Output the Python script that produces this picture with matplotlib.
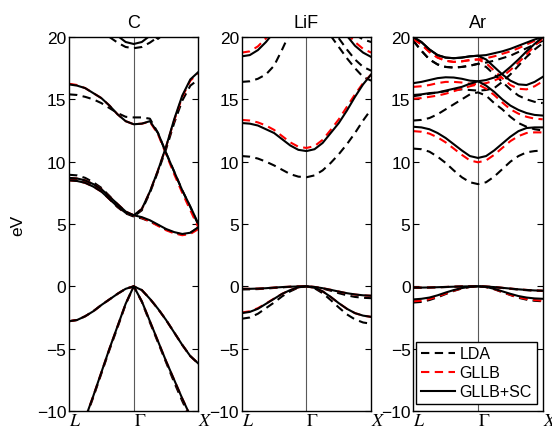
import numpy as np
import matplotlib
matplotlib.use("Agg")
import matplotlib.pyplot as plt
from matplotlib.lines import Line2D

plt.rcParams['font.family'] = ['Liberation Sans', 'DejaVu Sans']
plt.rcParams['mathtext.fontset'] = 'stix'

nan = np.nan
# k-path sample positions: L (0) -> Gamma (1) -> X (2)
kpts = np.linspace(0, 2, 17)
klabels = ['$L$', r'$\Gamma$', '$X$']
titles = ['C', 'LiF', 'Ar']
yticks = [-10, -5, 0, 5, 10, 15, 20]
methods = ['LDA', 'GLLB', 'GLLB+SC']

# ---------------- Diamond (C) ----------------
c_sc_v1 = [-2.8, -2.7, -2.4, -2.0, -1.5, -1.05, -0.6, -0.2, 0.0, -0.3, -1.0, -1.8, -2.7, -3.7, -4.7, -5.6, -6.2]
c_sc_v2 = [-13.5, -12.3, -10.6, -8.8, -6.9, -5.0, -3.2, -1.4, 0.0, -1.2, -2.8, -4.4, -6.0, -7.5, -9.0, -10.4, -11.5]
c_sc_c1 = [8.5, 8.45, 8.3, 8.0, 7.6, 7.0, 6.4, 5.9, 5.7, 5.55, 5.3, 4.95, 4.6, 4.35, 4.2, 4.3, 4.75]
c_sc_c2 = [8.7, 8.65, 8.5, 8.2, 7.8, 7.2, 6.6, 6.0, 5.7, 6.2, 7.6, 9.3, 11.2, 13.4, 15.3, 16.6, 17.2]
c_sc_c3 = [16.2, 16.1, 15.9, 15.5, 15.1, 14.5, 13.8, 13.25, 13.0, 13.05, 13.25, 12.3, 10.7, 9.2, 7.7, 6.4, 5.0]
c_sc_c4 = [nan, nan, nan, nan, nan, nan, 20.1, 19.6, 19.44, 19.6, 20.1, nan, nan, nan, nan, nan, nan]
c_sc_c5 = [nan, nan, nan, nan, nan, nan, nan, nan, nan, nan, 20.4, 19.85, 20.4, nan, nan, nan, nan]

c_gl_v1 = [-2.8, -2.7, -2.4, -2.0, -1.5, -1.05, -0.6, -0.2, 0.0, -0.3, -1.0, -1.8, -2.7, -3.7, -4.7, -5.6, -6.2]
c_gl_v2 = [-13.5, -12.3, -10.6, -8.8, -6.9, -5.0, -3.2, -1.4, 0.0, -1.2, -2.8, -4.4, -6.0, -7.5, -9.0, -10.4, -11.5]
c_gl_c1 = [8.5, 8.45, 8.3, 8.0, 7.6, 7.0, 6.4, 5.9, 5.7, 5.5, 5.2, 4.85, 4.5, 4.25, 4.1, 4.2, 4.6]
c_gl_c2 = [8.7, 8.65, 8.5, 8.2, 7.8, 7.2, 6.6, 6.0, 5.7, 6.2, 7.6, 9.3, 11.2, 13.3, 15.2, 16.5, 17.1]
c_gl_c3 = [16.25, 16.15, 15.9, 15.5, 15.1, 14.5, 13.8, 13.25, 13.0, 13.05, 13.2, 12.2, 10.6, 9.0, 7.5, 6.1, 4.7]
c_gl_c5 = [nan, nan, nan, nan, nan, nan, nan, nan, nan, nan, 20.4, 19.85, 20.4, nan, nan, nan, nan]

c_lda_v1 = [-2.8, -2.7, -2.4, -2.0, -1.5, -1.05, -0.6, -0.2, 0.0, -0.3, -1.0, -1.8, -2.7, -3.7, -4.7, -5.6, -6.2]
c_lda_v2 = [-13.6, -12.4, -10.7, -8.9, -7.0, -5.1, -3.3, -1.45, 0.0, -1.25, -2.9, -4.5, -6.1, -7.7, -9.2, -10.6, -11.7]
c_lda_c1 = [8.6, 8.55, 8.4, 8.1, 7.65, 7.0, 6.35, 5.85, 5.6, 5.45, 5.2, 4.9, 4.55, 4.3, 4.15, 4.3, 4.7]
c_lda_c2 = [8.95, 8.9, 8.7, 8.35, 7.9, 7.25, 6.55, 5.95, 5.6, 6.1, 7.5, 9.2, 11.0, 13.1, 14.9, 16.1, 16.6]
c_lda_c3 = [15.4, 15.35, 15.2, 15.0, 14.7, 14.3, 13.9, 13.6, 13.55, 13.55, 13.45, 12.3, 10.7, 9.2, 7.7, 6.35, 4.9]
c_lda_c4 = [nan, nan, nan, nan, nan, 20.0, 19.55, 19.2, 19.1, 19.2, 19.55, 20.0, nan, nan, nan, nan, nan]

# ---------------- LiF ----------------
lif_sc_v1 = [-0.2, -0.2, -0.18, -0.15, -0.1, -0.06, -0.03, -0.01, 0.0, -0.05, -0.15, -0.28, -0.42, -0.55, -0.65, -0.72, -0.75]
lif_sc_v2 = [-2.15, -2.05, -1.8, -1.4, -1.0, -0.6, -0.3, -0.08, 0.0, -0.12, -0.4, -0.85, -1.35, -1.8, -2.15, -2.35, -2.45]
lif_sc_c1 = [13.1, 13.05, 12.9, 12.6, 12.3, 11.8, 11.3, 10.95, 10.85, 11.0, 11.5, 12.3, 13.1, 14.1, 15.2, 16.2, 17.0]
lif_sc_c2 = [18.45, 18.55, 18.95, 19.6, 20.4, nan, nan, nan, nan, nan, nan, nan, nan, nan, nan, nan, nan]
lif_sc_c3 = [nan, nan, nan, nan, nan, nan, nan, nan, nan, nan, nan, nan, nan, 20.1, 19.3, 18.75, 18.4]

lif_gl_v1 = [-0.2, -0.2, -0.18, -0.15, -0.1, -0.06, -0.03, -0.01, 0.0, -0.05, -0.15, -0.28, -0.42, -0.56, -0.66, -0.73, -0.76]
lif_gl_v2 = [-2.1, -2.0, -1.75, -1.38, -0.98, -0.6, -0.3, -0.08, 0.0, -0.12, -0.4, -0.85, -1.35, -1.8, -2.15, -2.35, -2.45]
lif_gl_c1 = [13.35, 13.3, 13.15, 12.9, 12.55, 12.05, 11.55, 11.2, 11.1, 11.25, 11.75, 12.55, 13.4, 14.4, 15.4, 16.3, 17.0]
lif_gl_c2 = [18.75, 18.85, 19.25, 19.9, 20.6, nan, nan, nan, nan, nan, nan, nan, nan, nan, nan, nan, nan]
lif_gl_c3 = [nan, nan, nan, nan, nan, nan, nan, nan, nan, nan, nan, nan, nan, 20.3, 19.6, 19.05, 18.75]

lif_lda_v1 = [-0.25, -0.24, -0.22, -0.18, -0.13, -0.08, -0.04, -0.01, 0.0, -0.06, -0.18, -0.35, -0.55, -0.72, -0.85, -0.92, -0.95]
lif_lda_v2 = [-2.6, -2.5, -2.2, -1.75, -1.3, -0.8, -0.4, -0.1, 0.0, -0.15, -0.55, -1.1, -1.7, -2.25, -2.65, -2.9, -3.0]
lif_lda_c1 = [10.45, 10.4, 10.25, 10.0, 9.7, 9.35, 9.0, 8.8, 8.75, 8.9, 9.3, 9.9, 10.6, 11.4, 12.3, 13.3, 14.2]
lif_lda_c2 = [16.4, 16.45, 16.65, 17.0, 17.7, 19.0, 20.4, nan, nan, nan, nan, nan, nan, nan, nan, nan, nan]
lif_lda_c3 = [nan, nan, nan, nan, nan, nan, nan, nan, nan, nan, nan, 20.1, 19.2, 18.3, 17.5, 16.8, 16.5]
lif_lda_c4 = [nan, nan, nan, nan, nan, nan, nan, nan, nan, nan, nan, 20.8, 19.9, 19.0, 18.2, 17.6, 17.3]
lif_lda_c5 = [nan, nan, nan, nan, nan, nan, nan, nan, nan, nan, nan, nan, nan, nan, 20.2, 19.8, 19.6]

# ---------------- Ar ----------------
ar_sc_v1 = [-0.1, -0.1, -0.09, -0.07, -0.05, -0.03, -0.01, 0.0, 0.0, -0.02, -0.06, -0.12, -0.18, -0.24, -0.29, -0.33, -0.35]
ar_sc_v2 = [-1.05, -1.0, -0.9, -0.72, -0.5, -0.3, -0.14, -0.04, 0.0, -0.05, -0.2, -0.4, -0.6, -0.78, -0.9, -0.97, -1.0]
ar_sc_c1 = [12.8, 12.75, 12.6, 12.3, 11.9, 11.4, 10.9, 10.45, 10.3, 10.45, 10.9, 11.45, 12.0, 12.45, 12.7, 12.75, 12.75]
ar_sc_c2 = [15.35, 15.4, 15.5, 15.55, 15.7, 15.85, 16.0, 16.25, 16.45, 16.1, 15.6, 15.0, 14.5, 14.15, 13.9, 13.75, 13.7]
ar_sc_c3 = [16.3, 16.4, 16.55, 16.7, 16.77, 16.75, 16.65, 16.5, 16.45, 16.55, 16.75, 17.05, 17.6, 18.2, 18.85, 19.45, 20.0]
ar_sc_c4 = [20.0, 19.6, 19.0, 18.55, 18.35, 18.3, 18.35, 18.45, 18.5, 18.2, 17.6, 17.0, 16.5, 16.2, 16.15, 16.4, 16.8]
ar_sc_c5 = [20.0, 19.6, 19.0, 18.55, 18.35, 18.3, 18.35, 18.45, 18.5, 18.55, 18.7, 18.85, 19.05, 19.3, 19.55, 19.8, 20.0]

ar_gl_v1 = [-0.1, -0.1, -0.09, -0.07, -0.05, -0.03, -0.01, 0.0, 0.0, -0.02, -0.06, -0.12, -0.18, -0.24, -0.29, -0.33, -0.35]
ar_gl_v2 = [-1.2, -1.15, -1.02, -0.82, -0.58, -0.35, -0.16, -0.04, 0.0, -0.06, -0.22, -0.45, -0.68, -0.88, -1.02, -1.1, -1.15]
ar_gl_c1 = [12.45, 12.4, 12.25, 11.95, 11.55, 11.05, 10.55, 10.1, 9.95, 10.1, 10.55, 11.1, 11.65, 12.05, 12.3, 12.35, 12.35]
ar_gl_c2 = [15.05, 15.1, 15.2, 15.3, 15.45, 15.65, 15.85, 16.05, 16.2, 15.85, 15.35, 14.75, 14.2, 13.85, 13.6, 13.45, 13.4]
ar_gl_c3 = [16.0, 16.05, 16.15, 16.3, 16.4, 16.4, 16.35, 16.25, 16.2, 16.3, 16.5, 16.8, 17.35, 17.95, 18.6, 19.3, 19.9]
ar_gl_c4 = [19.85, 19.4, 18.8, 18.35, 18.1, 18.0, 18.05, 18.15, 18.2, 17.9, 17.3, 16.7, 16.15, 15.85, 15.8, 16.05, 16.45]
ar_gl_c5 = [19.85, 19.4, 18.8, 18.35, 18.1, 18.0, 18.05, 18.15, 18.2, 18.3, 18.45, 18.65, 18.85, 19.1, 19.4, 19.7, 19.95]

ar_lda_v1 = [-0.12, -0.12, -0.1, -0.08, -0.06, -0.03, -0.01, 0.0, 0.0, -0.02, -0.07, -0.13, -0.2, -0.26, -0.31, -0.35, -0.37]
ar_lda_v2 = [-1.3, -1.25, -1.1, -0.88, -0.62, -0.37, -0.17, -0.05, 0.0, -0.06, -0.23, -0.47, -0.7, -0.92, -1.07, -1.16, -1.2]
ar_lda_c1 = [11.05, 11.0, 10.8, 10.4, 9.9, 9.3, 8.75, 8.35, 8.2, 8.35, 8.8, 9.4, 10.0, 10.45, 10.75, 10.85, 10.9]
ar_lda_c2 = [13.3, 13.35, 13.5, 13.8, 14.2, 14.6, 15.0, 15.4, 15.56, 15.3, 14.7, 14.2, 13.6, 13.1, 12.8, 12.6, 12.5]
ar_lda_c3 = [15.25, 15.35, 15.45, 15.55, 15.65, 15.75, 15.8, 15.75, 15.7, 15.75, 15.9, 16.4, 17.0, 17.7, 18.4, 19.0, 19.5]
ar_lda_c4 = [19.7, 18.9, 18.2, 17.8, 17.6, 17.55, 17.6, 17.7, 17.85, 17.6, 17.0, 16.4, 15.8, 15.3, 15.0, 14.8, 14.7]
ar_lda_c5 = [19.7, 18.9, 18.2, 17.8, 17.6, 17.55, 17.6, 17.7, 17.85, 17.95, 18.1, 18.3, 18.5, 18.8, 19.1, 19.4, 19.7]

panels = [
    {'LDA': [c_lda_v1, c_lda_v2, c_lda_c1, c_lda_c2, c_lda_c3, c_lda_c4],
     'GLLB': [c_gl_v1, c_gl_v2, c_gl_c1, c_gl_c2, c_gl_c3, c_gl_c5],
     'GLLB+SC': [c_sc_v1, c_sc_v2, c_sc_c1, c_sc_c2, c_sc_c3, c_sc_c4, c_sc_c5]},
    {'LDA': [lif_lda_v1, lif_lda_v2, lif_lda_c1, lif_lda_c2, lif_lda_c3, lif_lda_c4, lif_lda_c5],
     'GLLB': [lif_gl_v1, lif_gl_v2, lif_gl_c1, lif_gl_c2, lif_gl_c3],
     'GLLB+SC': [lif_sc_v1, lif_sc_v2, lif_sc_c1, lif_sc_c2, lif_sc_c3]},
    {'LDA': [ar_lda_v1, ar_lda_v2, ar_lda_c1, ar_lda_c2, ar_lda_c3, ar_lda_c4, ar_lda_c5],
     'GLLB': [ar_gl_v1, ar_gl_v2, ar_gl_c1, ar_gl_c2, ar_gl_c3, ar_gl_c4, ar_gl_c5],
     'GLLB+SC': [ar_sc_v1, ar_sc_v2, ar_sc_c1, ar_sc_c2, ar_sc_c3, ar_sc_c4, ar_sc_c5]},
]

styles = {
    'LDA': dict(color='black', linestyle=(0, (4, 2.6)), lw=1.5),
    'GLLB': dict(color='#ff0000', linestyle=(0, (4, 2.6)), lw=1.5),
    'GLLB+SC': dict(color='black', linestyle='-', lw=1.5),
}

fig = plt.figure(figsize=(5.52, 4.31), dpi=100)
lefts = [0.125, 0.4379, 0.7487]
width = 0.2345
bottom, height = 0.0441, 0.8677

for i, (data, title) in enumerate(zip(panels, titles)):
    ax = fig.add_axes([lefts[i], bottom, width, height])
    ax.axvline(1.0, color='0.35', lw=0.8, zorder=1)
    for m in methods:
        for band in data[m]:
            ax.plot(kpts, band, zorder=2 if m != 'GLLB+SC' else 3, **styles[m])
    ax.set_xlim(0, 2)
    ax.set_ylim(-10, 20)
    ax.set_yticks(yticks)
    ax.set_xticks([0, 1, 2])
    ax.set_xticklabels(klabels, fontsize=13, ha='left')
    ax.tick_params(axis='y', direction='in', length=4, right=True, labelsize=12.5, pad=2)
    ax.tick_params(axis='x', direction='in', length=0, labelsize=13, pad=1)
    for s in ax.spines.values():
        s.set_linewidth(1.0)
    ax.set_title(title, fontsize=13, pad=7)
    if i == 0:
        ax.set_ylabel('eV', fontsize=12.5, labelpad=8)
    if i == 2:
        handles = [Line2D([], [], **styles[m]) for m in methods]
        leg = ax.legend(handles, methods, loc='lower left', bbox_to_anchor=(0.005, 0.012),
                        fontsize=11.5, frameon=True, fancybox=False, framealpha=1,
                        edgecolor='black', handlelength=2.1, handletextpad=0.3,
                        borderpad=0.3, labelspacing=0.25, borderaxespad=0.15)
        leg.get_frame().set_linewidth(1.0)

fig.savefig('out.png', dpi=100)
